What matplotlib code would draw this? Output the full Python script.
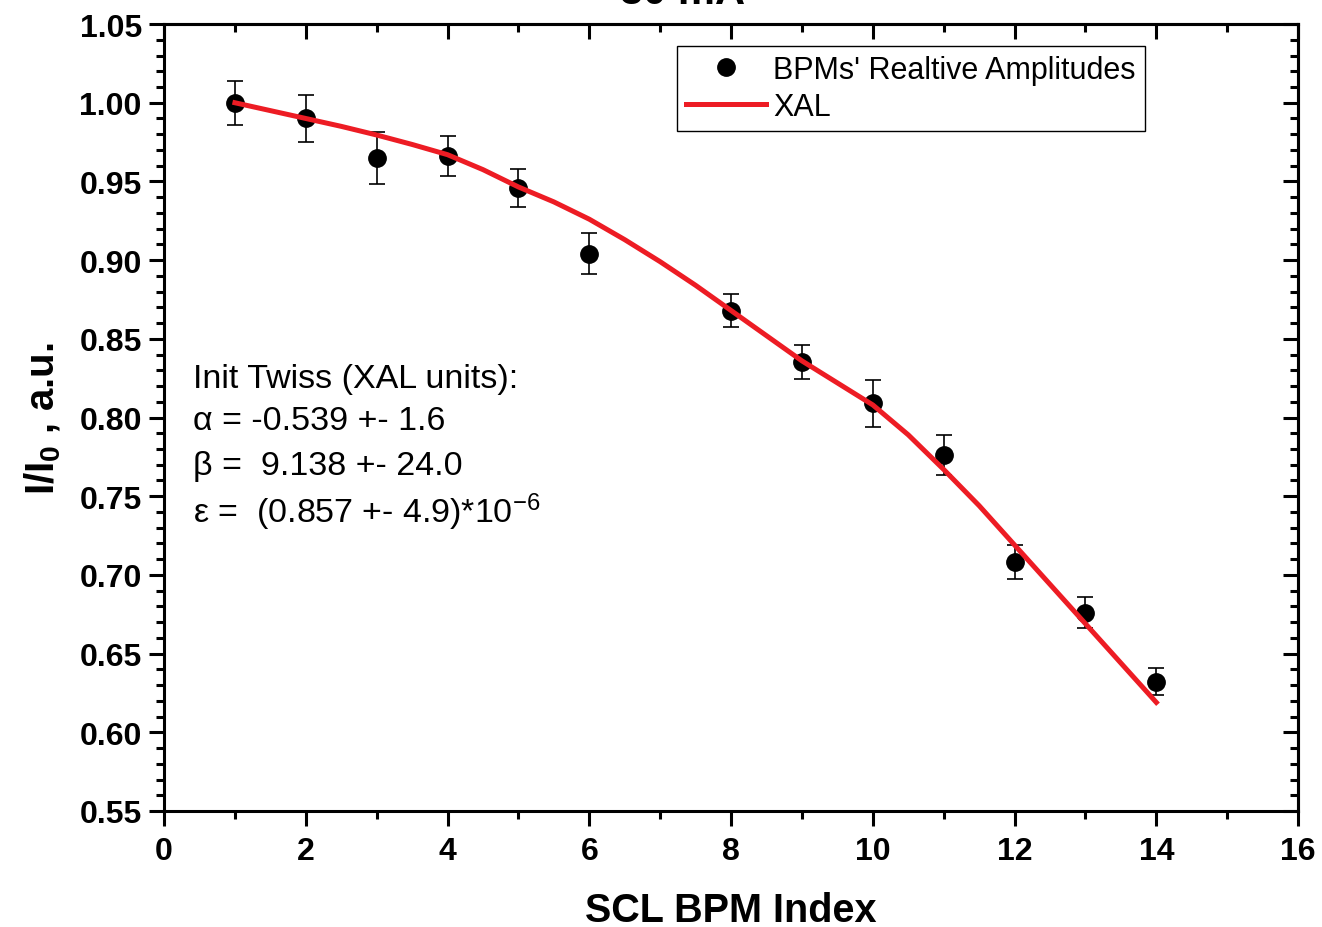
import matplotlib
matplotlib.use("Agg")
import matplotlib.pyplot as plt
from matplotlib.lines import Line2D
from matplotlib.ticker import MultipleLocator

plt.rcParams["font.family"] = ["Liberation Sans", "DejaVu Sans"]
plt.rcParams["mathtext.fontset"] = "custom"
plt.rcParams["mathtext.rm"] = "Liberation Sans"
plt.rcParams["mathtext.bf"] = "Liberation Sans:bold"
plt.rcParams["mathtext.it"] = "Liberation Sans:italic"

# ── Data ──────────────────────────────────────────────────────────────────────
bpm_index = [1, 2, 3, 4, 5, 6, 8, 9, 10, 11, 12, 13, 14]
rel_amp = [1.000, 0.990, 0.965, 0.966, 0.946, 0.904, 0.868,
           0.835, 0.809, 0.776, 0.708, 0.676, 0.632]
rel_err = [0.014, 0.015, 0.0165, 0.0127, 0.012, 0.013, 0.0105,
           0.0108, 0.015, 0.0127, 0.0108, 0.0098, 0.0086]

# XAL model curve, read at half-index steps
xal_index = [1, 1.5, 2, 2.5, 3, 3.5, 4, 4.5, 5, 5.5, 6, 6.5, 7, 7.5,
             8, 8.5, 9, 9.5, 10, 10.5, 11, 11.5, 12, 12.5, 13, 13.5, 14]
xal_amp = [1.000, 0.995, 0.990, 0.985, 0.9795, 0.9735, 0.967, 0.9575,
           0.9465, 0.937, 0.926, 0.913, 0.899, 0.884, 0.868, 0.852,
           0.836, 0.822, 0.808, 0.789, 0.767, 0.744, 0.719, 0.694,
           0.669, 0.644, 0.619]

twiss_lines = [
    "Init Twiss (XAL units):",
    "\u03b1 = -0.539 +- 1.6",
    "\u03b2 =  9.138 +- 24.0",
    "\u03b5 =  (0.857 +- 4.9)*10$^{-6}$",
]
twiss_y = [0.8195, 0.7928, 0.7642, 0.7337]

# ── Figure ────────────────────────────────────────────────────────────────────
fig = plt.figure(figsize=(13.22, 9.28), dpi=100)
ax = fig.add_axes([0.1241, 0.125, 0.8578, 0.848])

ax.errorbar(bpm_index, rel_amp, yerr=rel_err, fmt="o", color="black",
            ecolor="black", elinewidth=1.2, capsize=5.5, capthick=1.2,
            markersize=12.5, zorder=3)
ax.plot(xal_index, xal_amp, color="#ed1c24", linewidth=3.6, zorder=4)

ax.set_xlim(0, 16)
ax.set_ylim(0.55, 1.05)
ax.xaxis.set_major_locator(MultipleLocator(2))
ax.xaxis.set_minor_locator(MultipleLocator(1))
ax.yaxis.set_major_locator(MultipleLocator(0.05))
ax.yaxis.set_minor_locator(MultipleLocator(0.01))
ax.yaxis.set_major_formatter(plt.FormatStrFormatter("%.2f"))

for sp in ax.spines.values():
    sp.set_linewidth(2.2)

ax.tick_params(which="major", direction="out", length=11, width=2.2,
               labelsize=23, pad=5)
ax.tick_params(axis="x", which="major", pad=7)
ax.tick_params(which="minor", direction="out", length=6, width=2.2)
for lab in ax.get_xticklabels() + ax.get_yticklabels():
    lab.set_fontweight("bold")

# mirrored ticks on top / right, pointing inward, no labels
top = ax.secondary_xaxis("top")
top.xaxis.set_major_locator(MultipleLocator(2))
top.xaxis.set_minor_locator(MultipleLocator(1))
top.tick_params(which="major", direction="in", length=11, width=2.2,
                labeltop=False)
top.tick_params(which="minor", direction="in", length=6, width=2.2)
top.spines["top"].set_linewidth(2.2)

right = ax.secondary_yaxis("right")
right.yaxis.set_major_locator(MultipleLocator(0.05))
right.yaxis.set_minor_locator(MultipleLocator(0.01))
right.tick_params(which="major", direction="in", length=11, width=2.2,
                  labelright=False)
right.tick_params(which="minor", direction="in", length=6, width=2.2)
right.spines["right"].set_linewidth(2.2)

ax.set_xlabel("SCL BPM Index", fontsize=28.5, fontweight="bold", labelpad=18)
ax.set_ylabel(r"I/I$_{\mathbf{0}}$ , a.u.", fontsize=29, fontweight="bold",
              labelpad=12)

for line, yy in zip(twiss_lines, twiss_y):
    ax.text(0.41, yy, line, fontsize=24.5, va="baseline", ha="left")

# title, mostly clipped by the top of the figure as in the reference
fig.text(0.516, 0.996, "30 mA", fontsize=30, fontweight="bold",
         ha="center", va="baseline")

handles = [
    Line2D([], [], linestyle="none", marker="o", color="black", markersize=12.5),
    Line2D([], [], color="#ed1c24", linewidth=3.6),
]
labels = ["BPMs' Realtive Amplitudes", "XAL"]
leg = ax.legend(handles, labels, loc="upper right",
                bbox_to_anchor=(1145 / 1322, 1 - 47 / 928),
                bbox_transform=fig.transFigure, borderaxespad=0,
                fontsize=22, frameon=True, fancybox=False, framealpha=1,
                edgecolor="black", handlelength=2.6, handletextpad=0.25,
                labelspacing=0.22, borderpad=0.3)
leg.get_frame().set_linewidth(1.0)

plt.savefig("out.png", dpi=100)
plt.close()
